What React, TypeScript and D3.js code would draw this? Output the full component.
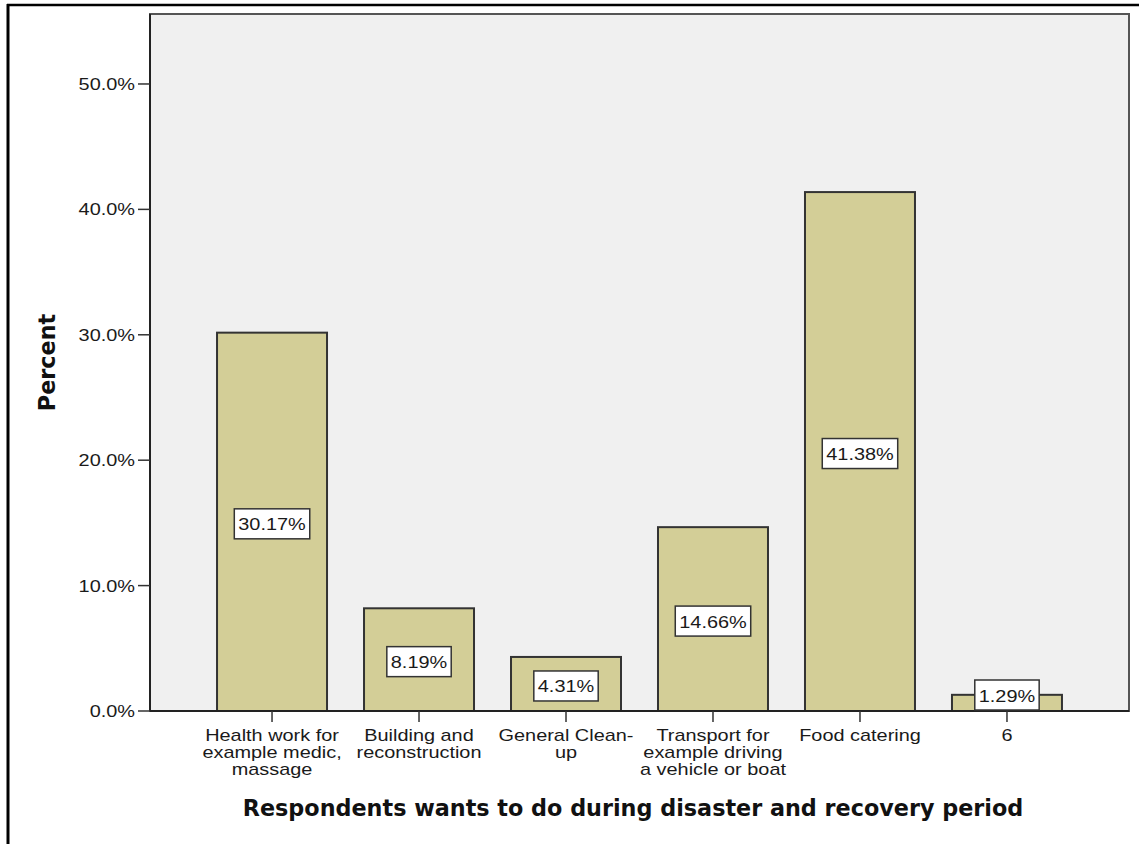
import React from "react";
import * as d3 from "d3";

const categories = [
  ["Health work for", "example medic,", "massage"],
  ["Building and", "reconstruction"],
  ["General Clean-", "up"],
  ["Transport for", "example driving", "a vehicle or boat"],
  ["Food catering"],
  ["6"],
];
const percents = [30.17, 8.19, 4.31, 14.66, 41.38, 1.29];
const yTicks = [0, 10, 20, 30, 40, 50];
const xTitle = "Respondents wants to do during disaster and recovery period";
const yTitle = "Percent";

const W = 1139;
const H = 844;
const plot = { left: 150, right: 1129, top: 14, bottom: 711 };
const SX = 1.17; // horizontal stretch applied to the small sans text
const FS = 17;
const BAR_FILL = "#d3ce97";
const PLOT_BG = "#f0f0f0";
const SANS = "'Liberation Sans', Arial, sans-serif";
const TITLE_FONT = "'DejaVu Sans', Verdana, sans-serif";

// Arial / Liberation Sans advance widths (em) for label characters
const charW: Record<string, number> = {
  "0": 0.556, "1": 0.556, "2": 0.556, "3": 0.556, "4": 0.556,
  "5": 0.556, "6": 0.556, "7": 0.556, "8": 0.556, "9": 0.556,
  ".": 0.278, "%": 0.889,
};
const textWidth = (s: string) =>
  s.split("").reduce((a, c) => a + (charW[c] ?? 0.556), 0) * FS * SX;

function SText(props: {
  x: number;
  y: number;
  anchor?: "start" | "middle" | "end";
  lines: string[];
  lineHeight?: number;
}) {
  const lh = props.lineHeight ?? 17;
  return (
    <text
      transform={`translate(${props.x},${props.y}) scale(${SX},1)`}
      textAnchor={props.anchor ?? "start"}
      fontFamily={SANS}
      fontSize={FS}
      fill="#1a1a1a"
    >
      {props.lines.map((ln, j) => (
        <tspan key={j} x={0} y={j * lh}>
          {ln}
        </tspan>
      ))}
    </text>
  );
}

export default function App() {
  const x = d3
    .scaleBand<number>()
    .domain(d3.range(categories.length))
    .range([plot.left, plot.right])
    .paddingInner(0.2517)
    .paddingOuter(0.456);
  const y = d3.scaleLinear().domain([0, 55.58]).range([plot.bottom, plot.top]);
  const fmt = (v: number) => d3.format(".1f")(v) + "%";

  return (
    <svg
      width={W}
      height={H}
      style={{ position: "absolute", left: 0, top: 0, background: "#fff" }}
    >
      {/* outer frame (top and left edges) */}
      <line x1={7} x2={W} y1={5} y2={5} stroke="#000" strokeWidth={2.5} />
      <line x1={8} x2={8} y1={4} y2={H} stroke="#000" strokeWidth={3} />

      {/* plot background */}
      <rect
        x={plot.left}
        y={plot.top}
        width={plot.right - plot.left}
        height={plot.bottom - plot.top}
        fill={PLOT_BG}
        stroke="#555"
        strokeWidth={2}
      />

      {/* bars */}
      {percents.map((v, i) => (
        <rect
          key={i}
          x={x(i)!}
          y={y(v)}
          width={x.bandwidth()}
          height={y(0) - y(v)}
          fill={BAR_FILL}
          stroke="#333"
          strokeWidth={2}
        />
      ))}

      {/* y axis */}
      <line x1={plot.left} x2={plot.left} y1={plot.top} y2={plot.bottom} stroke="#222" strokeWidth={2} />
      {yTicks.map((t) => (
        <g key={t}>
          <line x1={plot.left - 12} x2={plot.left} y1={y(t)} y2={y(t)} stroke="#333" strokeWidth={1.5} />
          <SText x={plot.left - 15} y={y(t) + 6} anchor="end" lines={[fmt(t)]} />
        </g>
      ))}

      {/* x axis */}
      <line x1={plot.left} x2={plot.right} y1={plot.bottom} y2={plot.bottom} stroke="#222" strokeWidth={2} />
      {categories.map((lines, i) => {
        const cx = x(i)! + x.bandwidth() / 2;
        return (
          <g key={i}>
            <line x1={cx} x2={cx} y1={plot.bottom} y2={plot.bottom + 11} stroke="#333" strokeWidth={1.5} />
            <SText x={cx} y={741} anchor="middle" lines={lines} />
          </g>
        );
      })}

      {/* value labels */}
      {percents.map((v, i) => {
        const label = d3.format(".2f")(v) + "%";
        const cx = x(i)! + x.bandwidth() / 2;
        const bw = textWidth(label) + 8;
        const bh = 30;
        let cy = (y(v) + y(0)) / 2 + 2;
        if (cy + bh / 2 > plot.bottom - 1) cy = plot.bottom - 1 - bh / 2;
        return (
          <g key={i}>
            <rect
              x={cx - bw / 2}
              y={cy - bh / 2}
              width={bw}
              height={bh}
              fill="#fff"
              stroke="#333"
              strokeWidth={1.5}
            />
            <SText x={cx} y={cy + 6.5} anchor="middle" lines={[label]} />
          </g>
        );
      })}

      {/* axis titles */}
      <text
        x={633}
        y={816}
        textAnchor="middle"
        fontFamily={TITLE_FONT}
        fontWeight="bold"
        fontSize={22.3}
        fill="#111"
      >
        {xTitle}
      </text>
      <text
        transform={`translate(55,${(plot.top + plot.bottom) / 2}) rotate(-90)`}
        textAnchor="middle"
        fontFamily={TITLE_FONT}
        fontWeight="bold"
        fontSize={22.3}
        fill="#111"
      >
        {yTitle}
      </text>
    </svg>
  );
}
